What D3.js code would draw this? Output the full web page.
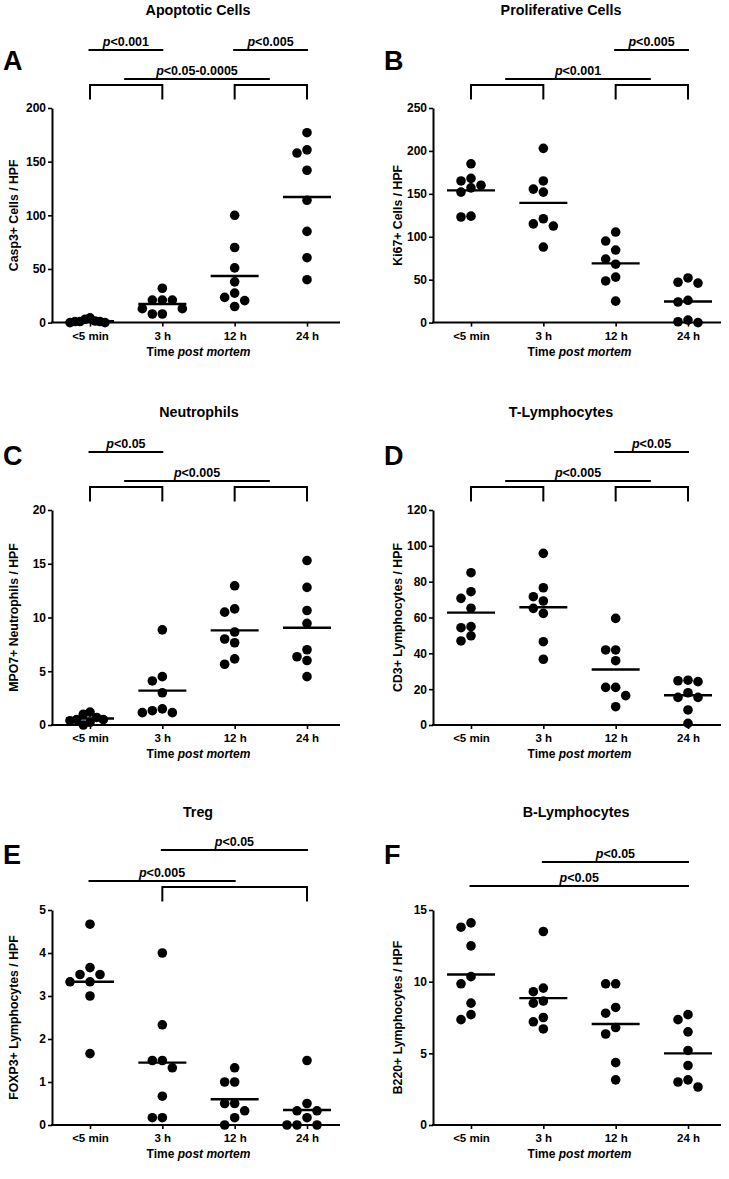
<!DOCTYPE html>
<html><head><meta charset="utf-8">
<script src="https://cdn.jsdelivr.net/npm/d3@7"></script>
<style>
body{margin:0;background:#fff}
text{font-family:"Liberation Sans",Arial,Helvetica,sans-serif;font-weight:bold;fill:#000}
</style>
</head><body>
<svg id="chart" width="729" height="1179"></svg>
<script>
// ---------- data ----------
const categories = ["<5 min", "3 h", "12 h", "24 h"];

const casp3Values = [
  [1.5, 0, 3, 0, 1, 1, 4.5, 1],
  [32, 21, 21, 21, 13, 13, 8, 8],
  [100, 70, 51, 38, 23.5, 27.5, 20.5, 15],
  [177, 161, 158, 142, 114, 85, 60.5, 40]
];
const casp3Means = [1.2, 17.3, 43.4, 117];
const casp3Ticks = [0, 50, 100, 150, 200];

const ki67Values = [
  [185, 168, 165, 160, 157, 152, 123, 124],
  [203, 165, 155.5, 152, 121, 115, 112.5, 88],
  [105.5, 95, 84.5, 74, 68, 53, 48.5, 25],
  [52, 46, 47, 26, 24, 3, 0, 1]
];
const ki67Means = [154, 139.5, 69, 24.5];
const ki67Ticks = [0, 50, 100, 150, 200, 250];

const mpo7Values = [
  [1.2, 1.0, 0.7, 0.5, 0.5, 0.25, 0.4, 0],
  [8.85, 4.5, 4.1, 3.0, 1.5, 1.33, 1.15, 1.15],
  [12.95, 10.8, 10.5, 8.65, 8.0, 7.65, 6.15, 5.65],
  [15.3, 12.8, 10.65, 9.45, 7.0, 6.35, 6.0, 4.5]
];
const mpo7Means = [0.6, 3.2, 8.8, 9.05];
const mpo7Ticks = [0, 5, 10, 15, 20];

const cd3Values = [
  [85, 74.4, 70.7, 65.2, 54.9, 54.3, 49.8, 46.9],
  [95.8, 76.6, 71.6, 69.2, 65.1, 62.3, 46.5, 36.7],
  [59.5, 41.9, 41.9, 35.9, 21, 21, 16.4, 10.2],
  [25, 24.7, 24.2, 18, 15.4, 15.4, 8.4, 0.9]
];
const cd3Means = [62.7, 65.7, 31, 16.6];
const cd3Ticks = [0, 20, 40, 60, 80, 100, 120];

const foxp3Values = [
  [4.67, 3.66, 3.5, 3.5, 3.33, 3.33, 3.0, 1.66],
  [4.0, 2.33, 1.5, 1.5, 1.33, 0.67, 0.17, 0.17],
  [1.33, 1.0, 1.0, 0.5, 0.5, 0.33, 0.17, 0],
  [1.5, 0.5, 0.33, 0.33, 0.17, 0, 0, 0]
];
const foxp3Means = [3.33, 1.45, 0.6, 0.35];
const foxp3Ticks = [0, 1, 2, 3, 4, 5];

const b220Values = [
  [14.1, 13.8, 12.5, 10.35, 9.85, 8.5, 7.7, 7.35],
  [13.5, 9.55, 9.3, 8.65, 8.5, 7.5, 7.2, 6.7],
  [9.85, 9.85, 8.2, 7.8, 6.8, 6.35, 4.35, 3.15],
  [7.7, 7.35, 6.5, 5.2, 4.15, 3.15, 3.0, 2.65]
];
const b220Means = [10.5, 8.85, 7.05, 5.0];
const b220Ticks = [0, 5, 10, 15];

// ---------- layout ----------
const colAxisX = [52, 433];
const colRight = [340, 721];
const rowTop = [108, 510, 910];
const rowBottom = [322.6, 725, 1125];
const letterBaseline = [70, 465, 864];

const panels = [
  {letter:"A", title:"Apoptotic Cells", titleX:198, ylabel:"Casp3+ Cells / HPF", values:casp3Values, means:casp3Means, ticks:casp3Ticks, col:0, row:0,
   ann:[{t:"bracket",a:0,b:1},{t:"bracket",a:2,b:3},
        {t:"line",a:0,b:1,lvl:58,label:"<0.001"},{t:"line",a:2,b:3,lvl:58,label:"<0.005"},
        {t:"mid",lvl:29,label:"<0.05-0.0005"}]},
  {letter:"B", title:"Proliferative Cells", titleX:561, ylabel:"Ki67+ Cells / HPF", values:ki67Values, means:ki67Means, ticks:ki67Ticks, col:1, row:0,
   ann:[{t:"bracket",a:0,b:1},{t:"bracket",a:2,b:3},
        {t:"line",a:2,b:3,lvl:58,label:"<0.005"},{t:"mid",lvl:29,label:"<0.001"}]},
  {letter:"C", title:"Neutrophils", titleX:199, ylabel:"MPO7+ Neutrophils / HPF", values:mpo7Values, means:mpo7Means, ticks:mpo7Ticks, col:0, row:1,
   ann:[{t:"bracket",a:0,b:1},{t:"bracket",a:2,b:3},
        {t:"line",a:0,b:1,lvl:58,label:"<0.05"},{t:"mid",lvl:29,label:"<0.005"}]},
  {letter:"D", title:"T-Lymphocytes", titleX:561, ylabel:"CD3+ Lymphocytes / HPF", values:cd3Values, means:cd3Means, ticks:cd3Ticks, col:1, row:1,
   ann:[{t:"bracket",a:0,b:1},{t:"bracket",a:2,b:3},
        {t:"line",a:2,b:3,lvl:58,label:"<0.05"},{t:"mid",lvl:29,label:"<0.005"}]},
  {letter:"E", title:"Treg", titleX:198, ylabel:"FOXP3+ Lymphocytes / HPF", values:foxp3Values, means:foxp3Means, ticks:foxp3Ticks, col:0, row:2,
   ann:[{t:"bracket",a:1,b:3},
        {t:"line",a:1,b:3,lvl:60,label:"<0.05"},{t:"line",a:0,b:2,lvl:29,label:"<0.005"}]},
  {letter:"F", title:"B-Lymphocytes", titleX:576, ylabel:"B220+ Lymphocytes / HPF", values:b220Values, means:b220Means, ticks:b220Ticks, col:1, row:2,
   ann:[{t:"line",a:1,b:3,lvl:48,label:"<0.05"},{t:"line",a:0,b:3,lvl:24,label:"<0.05"}]}
];

const svg = d3.select("#chart");
svg.append("rect").attr("width",729).attr("height",1179).attr("fill","#fff");

const R = 4.8, STEP = 10, MAXSPREAD = 20;

function dodge(vals, y) {
  const order = vals.map((v,i)=>i).sort((a,b)=>vals[b]-vals[a]);
  const placed = [], out = [];
  order.forEach(i => {
    const py = y(vals[i]);
    for (let k = 0; k < 40; k++) {
      const off = k === 0 ? 0 : (k % 2 === 1 ? -Math.ceil(k/2) : Math.ceil(k/2)) * STEP;
      if (placed.every(p => Math.hypot(p.x - off, p.y - py) >= 2*R*0.95)) {
        placed.push({x:off, y:py}); out[i] = off; break;
      }
    }
  });
  const m = d3.max(out, d => Math.abs(d));
  const s = m > MAXSPREAD ? MAXSPREAD / m : 1;
  return out.map(d => d * s);
}

function pLabel(g, x, yb, label) {
  const t = g.append("text").attr("x", x).attr("y", yb).attr("text-anchor","middle").attr("font-size",12.5);
  t.append("tspan").attr("font-style","italic").text("p");
  t.append("tspan").text(label);
}

panels.forEach(p => {
  const ax = colAxisX[p.col], right = colRight[p.col];
  const top = rowTop[p.row], bottom = rowBottom[p.row];
  const g = svg.append("g");

  const x = d3.scalePoint().domain(categories).range([ax + 38, ax + 255]);
  const y = d3.scaleLinear().domain([0, d3.max(p.ticks)]).range([bottom, top]);

  // y axis
  const yAxis = d3.axisLeft(y).tickValues(p.ticks).tickFormat(d3.format("d"))
    .tickSize(4).tickSizeOuter(0).tickPadding(2);
  const ya = g.append("g").attr("transform", `translate(${ax},0)`).call(yAxis);
  ya.select(".domain").attr("stroke","#000").attr("stroke-width",2);
  ya.selectAll(".tick line").attr("stroke","#000").attr("stroke-width",1.6);
  ya.selectAll(".tick text").attr("font-size",12).attr("font-family",null).attr("fill","#000");

  // x axis
  g.append("line").attr("x1", ax - 1).attr("x2", right).attr("y1", bottom).attr("y2", bottom)
    .attr("stroke","#000").attr("stroke-width",2);
  const xa = g.append("g").attr("transform", `translate(0,${bottom})`)
    .call(d3.axisBottom(x).tickSize(4).tickSizeOuter(0).tickPadding(5));
  xa.select(".domain").remove();
  xa.selectAll(".tick line").attr("stroke","#000").attr("stroke-width",1.6);
  xa.selectAll(".tick text").attr("font-size",11.5).attr("font-family",null).attr("fill","#000");

  // axis titles
  const cx = (x(categories[0]) + x(categories[3])) / 2;
  const xt = g.append("text").attr("x", cx).attr("y", bottom + 33).attr("text-anchor","middle").attr("font-size",12);
  xt.append("tspan").text("Time ");
  xt.append("tspan").attr("font-style","italic").text("post mortem");
  const ylx = p.col === 0 ? 18 : 402;
  g.append("text").attr("transform", `translate(${ylx},${(top+bottom)/2}) rotate(-90)`)
    .attr("text-anchor","middle").attr("font-size",12.3).text(p.ylabel);

  // title and letter
  g.append("text").attr("x", p.titleX).attr("y", top - 93).attr("text-anchor","middle").attr("font-size",14.3).text(p.title);
  g.append("text").attr("x", p.col === 0 ? 3 : 384).attr("y", letterBaseline[p.row]).attr("font-size",27).text(p.letter);

  // dots
  p.values.forEach((vals, ci) => {
    const offs = dodge(vals, y);
    const cxp = x(categories[ci]);
    g.append("g").selectAll("circle").data(vals).join("circle")
      .attr("cx", (d,i) => cxp + offs[i]).attr("cy", d => y(d)).attr("r", R).attr("fill","#000");
    g.append("line").attr("x1", cxp - 24).attr("x2", cxp + 24)
      .attr("y1", y(p.means[ci])).attr("y2", y(p.means[ci]))
      .attr("stroke","#000").attr("stroke-width",2.4);
  });

  // significance annotations
  const bTop = top - 23, bBot = top - 8.5;
  p.ann.forEach(a => {
    if (a.t === "bracket") {
      const x1 = x(categories[a.a]), x2 = x(categories[a.b]);
      g.append("path").attr("d", `M${x1},${bBot}V${bTop}H${x2}V${bBot}`)
        .attr("fill","none").attr("stroke","#000").attr("stroke-width",2);
    } else {
      let x1, x2;
      if (a.t === "mid") {
        x1 = (x(categories[0]) + x(categories[1])) / 2 - 2;
        x2 = (x(categories[2]) + x(categories[3])) / 2 - 1;
      } else {
        x1 = x(categories[a.a]) - 1.5; x2 = x(categories[a.b]) + 1;
      }
      const ly = top - a.lvl;
      g.append("line").attr("x1",x1).attr("x2",x2).attr("y1",ly).attr("y2",ly)
        .attr("stroke","#000").attr("stroke-width",2);
      pLabel(g, (x1+x2)/2, ly - 4.5, a.label);
    }
  });
});
</script>
</body></html>
